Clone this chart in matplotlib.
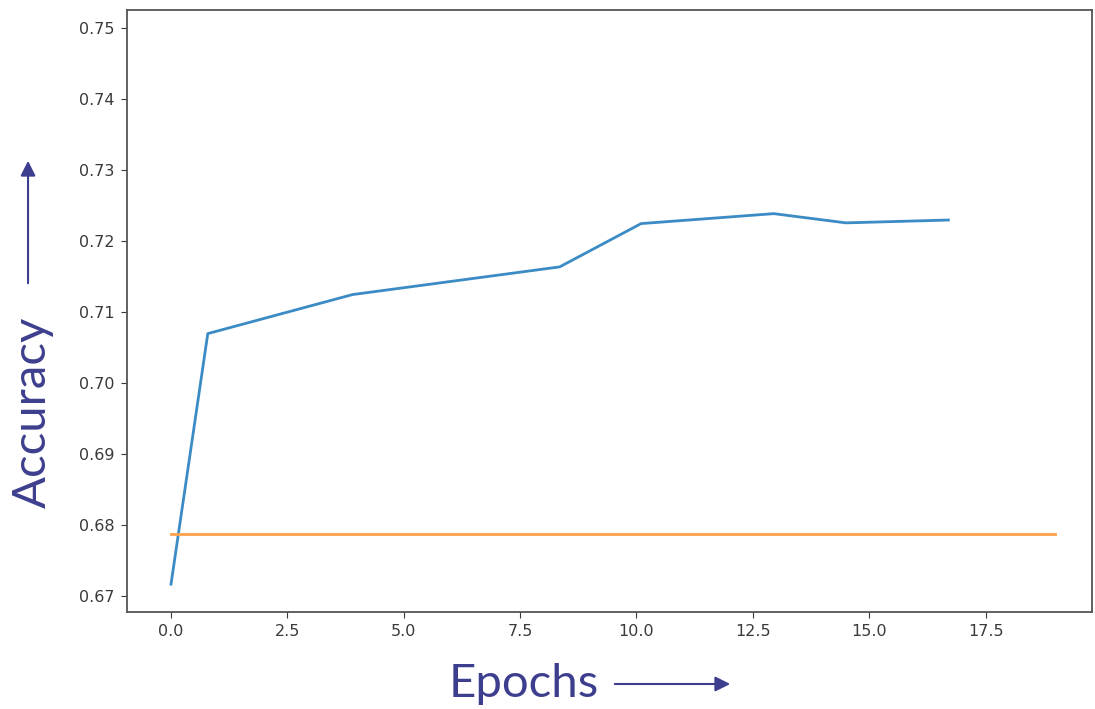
import matplotlib.pyplot as plt

# values
epochs = [0.0, 0.79, 3.9, 8.35, 10.1, 12.95, 14.5, 16.7]
accuracy = [0.6716, 0.7069, 0.7124, 0.7163, 0.7224, 0.7238, 0.7225, 0.7229]
baseline_x = [0.0, 19.0]
baseline_acc = [0.6786, 0.6786]

label_color = '#3d3f8e'

fig = plt.figure(figsize=(10.95, 7.09), dpi=100)
ax = fig.add_axes([0.116, 0.137, 0.881, 0.849])

ax.plot(epochs, accuracy, color='#3b8bc5', linewidth=2)
ax.plot(baseline_x, baseline_acc, color='#ffa04d', linewidth=2)

ax.set_xlim(-0.945, 19.78)
ax.set_ylim(0.6677, 0.7525)
ax.set_xticks([0, 2.5, 5, 7.5, 10, 12.5, 15, 17.5])
ax.set_yticks([0.67, 0.68, 0.69, 0.70, 0.71, 0.72, 0.73, 0.74, 0.75])
ax.xaxis.set_major_formatter(plt.FormatStrFormatter('%.1f'))
ax.yaxis.set_major_formatter(plt.FormatStrFormatter('%.2f'))
ax.tick_params(labelsize=11.5, colors='#3a3a3a', length=4, pad=5)
for s in ax.spines.values():
    s.set_color('#555555')
    s.set_linewidth(1.3)

# hand-drawn style axis captions with arrows
fig.text(0.030, 1 - 412 / 709, 'Accuracy', rotation=90, ha='center', va='center',
         fontsize=34, color=label_color, family='Lato')
fig.text(0.4785, 0.035, 'Epochs', ha='center', va='center',
         fontsize=34, color=label_color, family='Lato')
fig.add_artist(plt.matplotlib.patches.FancyArrowPatch(
    (0.0256, 1 - 286 / 709), (0.0256, 1 - 158 / 709), transform=fig.transFigure,
    arrowstyle='-|>,head_length=0.6,head_width=0.3', mutation_scale=15,
    color=label_color, linewidth=1.5))
fig.add_artist(plt.matplotlib.patches.FancyArrowPatch(
    (612 / 1095, 1 - 684 / 709), (733 / 1095, 1 - 684 / 709), transform=fig.transFigure,
    arrowstyle='-|>,head_length=0.6,head_width=0.3', mutation_scale=15,
    color=label_color, linewidth=1.5))

fig.savefig('out.png', dpi=100)
